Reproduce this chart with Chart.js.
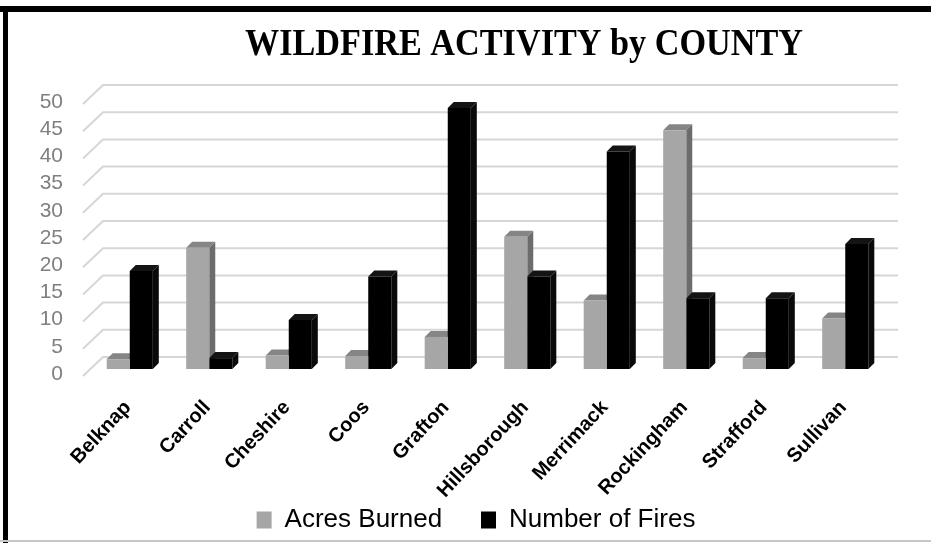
<!DOCTYPE html>
<html>
<head>
<meta charset="utf-8">
<title>Wildfire activity by county</title>
<script src="https://cdn.jsdelivr.net/npm/chart.js@4.4.1/dist/chart.umd.min.js"></script>
<style>
  html, body { margin: 0; padding: 0; background: #fff; }
  #wrap { position: relative; width: 931px; height: 543px; overflow: hidden; }
  .edge { position: absolute; }
</style>
</head>
<body>
<div id="wrap">
  <canvas id="chart" width="931" height="543"></canvas>
  <div class="edge" style="left:0;top:6px;width:931px;height:6px;background:#000"></div>
  <div class="edge" style="left:3px;top:6px;width:5px;height:537px;background:#000"></div>
  <div class="edge" style="left:0;top:540px;width:931px;height:2px;background:#c8c8c8"></div>
</div>
<script>
const chartTitle = "WILDFIRE ACTIVITY by COUNTY";
const counties = ["Belknap", "Carroll", "Cheshire", "Coos", "Grafton",
  "Hillsborough", "Merrimack", "Rockingham", "Strafford", "Sullivan"];
const acresBurned = [1.8, 22.3, 2.5, 2.4, 5.9, 24.3, 12.6, 43.9, 2.0, 9.3];
const numberOfFires = [18, 2, 9, 17, 48, 17, 40, 13, 13, 23];
const seriesNames = ["Acres Burned", "Number of Fires"];
const yMax = 50;
const yStep = 5;

// depth of the back wall and of the bars (px)
const wall = { back: [13, -12], front: [-7, 7] };
const depth = 6;

// back wall gridlines + floor diagonals
const wallPlugin = {
  id: "wall",
  beforeDatasetsDraw(chart) {
    const { ctx, chartArea, scales } = chart;
    const y = scales.y;
    ctx.save();
    ctx.strokeStyle = "#d6d6d6";
    ctx.lineWidth = 2;
    y.ticks.forEach((t) => {
      const py = y.getPixelForValue(t.value);
      ctx.beginPath();
      ctx.moveTo(chartArea.left + wall.front[0], py + wall.front[1]);
      ctx.lineTo(chartArea.left + wall.back[0], py + wall.back[1]);
      ctx.lineTo(chartArea.right + wall.back[0], py + wall.back[1]);
      ctx.stroke();
    });
    ctx.restore();
  },
};

// top and side faces, drawn before the flat fronts
const facesPlugin = {
  id: "faces",
  beforeDatasetsDraw(chart) {
    const { ctx } = chart;
    const metas = chart.data.datasets.map((ds, i) => chart.getDatasetMeta(i));
    ctx.save();
    for (let i = 0; i < counties.length; i++) {
      metas.forEach((meta, d) => {
        const ds = chart.data.datasets[d];
        const bar = meta.data[i];
        const { x, y, base, width } = bar.getProps(["x", "y", "base", "width"], true);
        const x1 = x - width / 2;
        const x2 = x + width / 2;
        ctx.fillStyle = ds.sideColor;
        ctx.beginPath();
        ctx.moveTo(x2, y);
        ctx.lineTo(x2 + depth, y - depth);
        ctx.lineTo(x2 + depth, base - depth);
        ctx.lineTo(x2, base);
        ctx.closePath();
        ctx.fill();
        ctx.fillStyle = ds.topColor;
        ctx.beginPath();
        ctx.moveTo(x1, y);
        ctx.lineTo(x1 + depth, y - depth);
        ctx.lineTo(x2 + depth, y - depth);
        ctx.lineTo(x2, y);
        ctx.closePath();
        ctx.fill();
      });
    }
    ctx.restore();
  },
};

const titlePlugin = {
  id: "bigTitle",
  afterDraw(chart) {
    const { ctx } = chart;
    ctx.save();
    ctx.fillStyle = "#000";
    ctx.font = 'bold 37px "Liberation Serif", "Times New Roman", serif';
    ctx.textAlign = "center";
    ctx.textBaseline = "alphabetic";
    ctx.translate(524, 55);
    ctx.scale(0.925, 1);
    ctx.fillText(chartTitle, 0, 0);
    ctx.restore();
  },
};

new Chart(document.getElementById("chart"), {
  type: "bar",
  data: {
    labels: counties,
    datasets: [
      {
        label: seriesNames[0],
        data: acresBurned,
        backgroundColor: "#a6a6a6",
        topColor: "#858585",
        sideColor: "#6c6c6c",
        borderWidth: 0,
        categoryPercentage: 0.58,
        barPercentage: 1.0,
      },
      {
        label: seriesNames[1],
        data: numberOfFires,
        backgroundColor: "#000000",
        topColor: "#141414",
        sideColor: "#0a0a0a",
        borderWidth: 0,
        categoryPercentage: 0.58,
        barPercentage: 1.0,
      },
    ],
  },
  options: {
    responsive: false,
    animation: false,
    events: [],
    layout: { padding: { left: 21, right: 0, top: 97, bottom: 0 } },
    plugins: {
      title: { display: false },
      tooltip: { enabled: false },
      legend: {
        position: "bottom",
        labels: {
          boxWidth: 15,
          boxHeight: 17,
          padding: 10,
          color: "#000",
          font: { family: '"Liberation Sans", Arial, sans-serif', size: 26 },
          generateLabels(chart) {
            const items = Chart.defaults.plugins.legend.labels.generateLabels(chart);
            // wider gap between the two entries
            items.forEach((it, i) => { if (i < items.length - 1) it.text += "    "; });
            return items;
          },
        },
      },
    },
    scales: {
      x: {
        grid: { display: false, drawTicks: false },
        border: { display: false },
        ticks: {
          autoSkip: false,
          minRotation: 47,
          maxRotation: 47,
          padding: 27,
          labelOffset: -2,
          color: "#000",
          font: { family: '"Liberation Sans", Arial, sans-serif', size: 20, weight: "bold" },
        },
        afterFit: (s) => { s.height = 128; },
      },
      y: {
        min: 0,
        max: yMax,
        grid: { display: false, drawTicks: false },
        border: { display: false },
        ticks: {
          stepSize: yStep,
          autoSkip: false,
          padding: 27,
          labelOffset: 5,
          color: "#7f7f7f",
          font: { family: '"Liberation Sans", Arial, sans-serif', size: 21, lineHeight: 1 },
        },
        afterFit: (s) => { s.width = 69; },
      },
      yR: {
        position: "right",
        display: true,
        grid: { display: false, drawTicks: false },
        border: { display: false },
        ticks: { display: false },
        afterFit: (s) => { s.width = 46; },
      },
    },
  },
  plugins: [wallPlugin, facesPlugin, titlePlugin],
});
</script>
</body>
</html>
